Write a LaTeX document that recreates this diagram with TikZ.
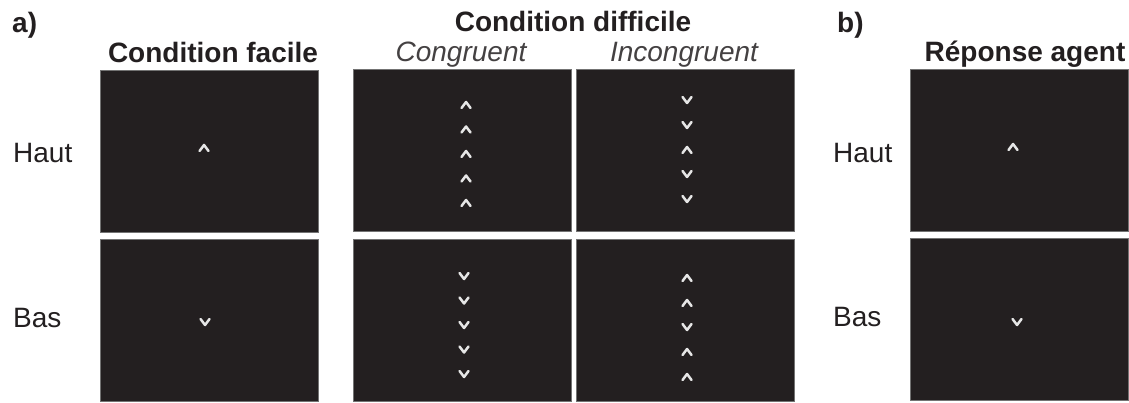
\documentclass[tikz,border=0pt]{standalone}
\usepackage{fontspec}
\setmainfont{Liberation Sans}
\definecolor{screen}{HTML}{231F20}
\definecolor{ink}{HTML}{231F20}
\definecolor{chev}{HTML}{E6E6E6}
\begin{document}
\begin{tikzpicture}[x=1pt,y=-1pt,
  screenbox/.style={draw=black!55,line width=0.9pt,fill=screen,inner sep=0pt,
     minimum width=218pt,minimum height=162pt},
  title/.style={font=\fontsize{28}{33}\selectfont\bfseries,text=ink,anchor=base,inner sep=0pt},
  sub/.style={font=\fontsize{28}{33}\selectfont\itshape,text=ink!85,anchor=base,inner sep=0pt},
  rowlab/.style={font=\fontsize{28}{33}\selectfont,text=ink,anchor=base west,inner sep=0pt},
  chevline/.style={draw=chev,line width=2.5pt,line cap=round,line join=round},
  pics/chup/.style={code={\draw[chevline] (-4.5,3) -- (0,-3) -- (4.5,3);}},
  pics/chdn/.style={code={\draw[chevline] (-4.5,-3) -- (0,3) -- (4.5,-3);}}]
\useasboundingbox (0,0) rectangle (1129,403);
% panel labels
\node[title,anchor=base west] (la) at (12,33) {a)};
\node[title,anchor=base west] (lb) at (837,33) {b)};
% titles
\node[title] (tfac) at (213,63) {Condition facile};
\node[title] (tdif) at (573,32) {Condition difficile};
\node[sub] (tcon) at (461,62) {Congruent};
\node[sub] (tinc) at (684,62) {Incongruent};
\node[title] (tag) at (1025,62) {Réponse agent};
% row labels
\node[rowlab] (h1) at (13,163) {Haut};
\node[rowlab] (b1) at (13,327) {Bas};
\node[rowlab] (h2) at (833,163) {Haut};
\node[rowlab] (b2) at (833,326) {Bas};
% screens
\node[screenbox] (f1) at (209.5,151) {};
\node[screenbox] (f2) at (209.5,320) {};
\node[screenbox] (c1) at (462,150) {};
\node[screenbox] (c2) at (462,320) {};
\node[screenbox] (i1) at (685.5,150) {};
\node[screenbox] (i2) at (685.5,320) {};
\node[screenbox] (r1) at (1019,150) {};
\node[screenbox] (r2) at (1019,319) {};
% chevrons: easy condition
\pic at (204,148) {chup};
\pic at (205,322) {chdn};
% congruent
\foreach \y in {105,129.5,154,178.5,203} {\pic at (466,\y) {chup};}
\foreach \y in {276,300.5,325,349.5,374} {\pic at (464,\y) {chdn};}
% incongruent
\pic at (687,100) {chdn};
\pic at (687,125) {chdn};
\pic at (687,150) {chup};
\pic at (687,174) {chdn};
\pic at (687,199) {chdn};
\pic at (687,278) {chup};
\pic at (687,303) {chup};
\pic at (687,327) {chdn};
\pic at (687,352) {chup};
\pic at (687,377) {chup};
% agent response
\pic at (1013,147) {chup};
\pic at (1017,322) {chdn};
\end{tikzpicture}
\end{document}
